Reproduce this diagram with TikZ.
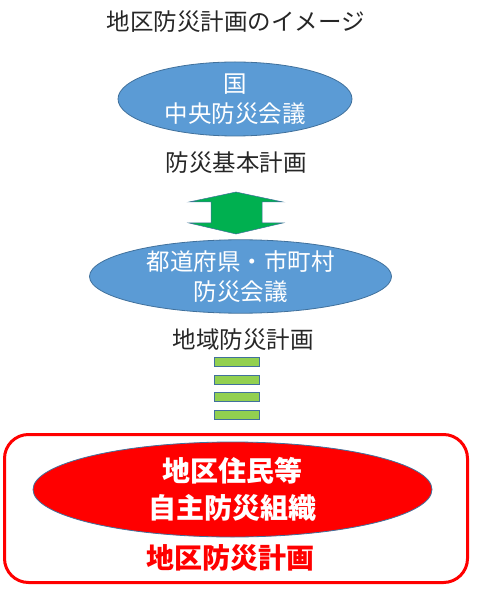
\documentclass[tikz,border=0pt]{standalone}
\usepackage{fontspec}
\setmainfont{Noto Sans CJK JP}
\usetikzlibrary{shapes.geometric}
\definecolor{obl}{HTML}{5B9BD5}
\definecolor{obd}{HTML}{41719C}
\definecolor{ogr}{HTML}{00B050}
\definecolor{olg}{HTML}{92D050}
\definecolor{txt}{HTML}{262626}
\tikzset{
  blueell/.style={ellipse, draw=obd, line width=0.8pt, fill=obl, inner sep=0pt, text=white, align=center, font=\fontsize{23.5}{30}\selectfont},
  lbl/.style={inner sep=0pt, text=txt, font=\fontsize{23.5}{26}\selectfont},
  bar/.style={draw=obd, line width=0.8pt, fill=olg},
}
\begin{document}
\begin{tikzpicture}[x=1pt,y=-1pt]
\useasboundingbox (0,0) rectangle (476,593);
\node[lbl] (title) at (236,22) {地区防災計画のイメージ};
\node[blueell, minimum width=234pt, minimum height=74pt] (kuni) at (235,99) {国\\中央防災会議};
\node[lbl] (kihon) at (236,163) {防災基本計画};
% up-down arrow
\coordinate (atop) at (236,192);
\coordinate (abot) at (236,234);
\filldraw[fill=ogr, draw=obd, line width=0.5pt]
  (atop) -- (283,202) -- (262,202) -- (262,223) -- (283,223) -- (abot)
  -- (189,223) -- (211,223) -- (211,202) -- (189,202) -- cycle;
\node[blueell, minimum width=302pt, minimum height=73pt] (pref) at (240.5,276.5) {都道府県・市町村\\防災会議};
\node[lbl] (chiiki) at (243,340) {地域防災計画};
\foreach \y [count=\i] in {357,375,392,410}{
  \draw[bar] (214,\y) rectangle (259,\y+9);
}
\draw[red, line width=3pt, rounded corners=24pt] (4.5,434.5) rectangle (467.5,582.5);
\node[ellipse, draw=obd, line width=0.8pt, fill=red, inner sep=0pt, minimum width=399pt, minimum height=95pt, text=white, align=center, font=\fontsize{28}{37}\selectfont\bfseries] (jishu) at (232.5,489.5) {地区住民等\\自主防災組織};
\node[inner sep=0pt, text=red, font=\fontsize{28}{32}\selectfont\bfseries] (chiku) at (230,558) {地区防災計画};
\end{tikzpicture}
\end{document}
